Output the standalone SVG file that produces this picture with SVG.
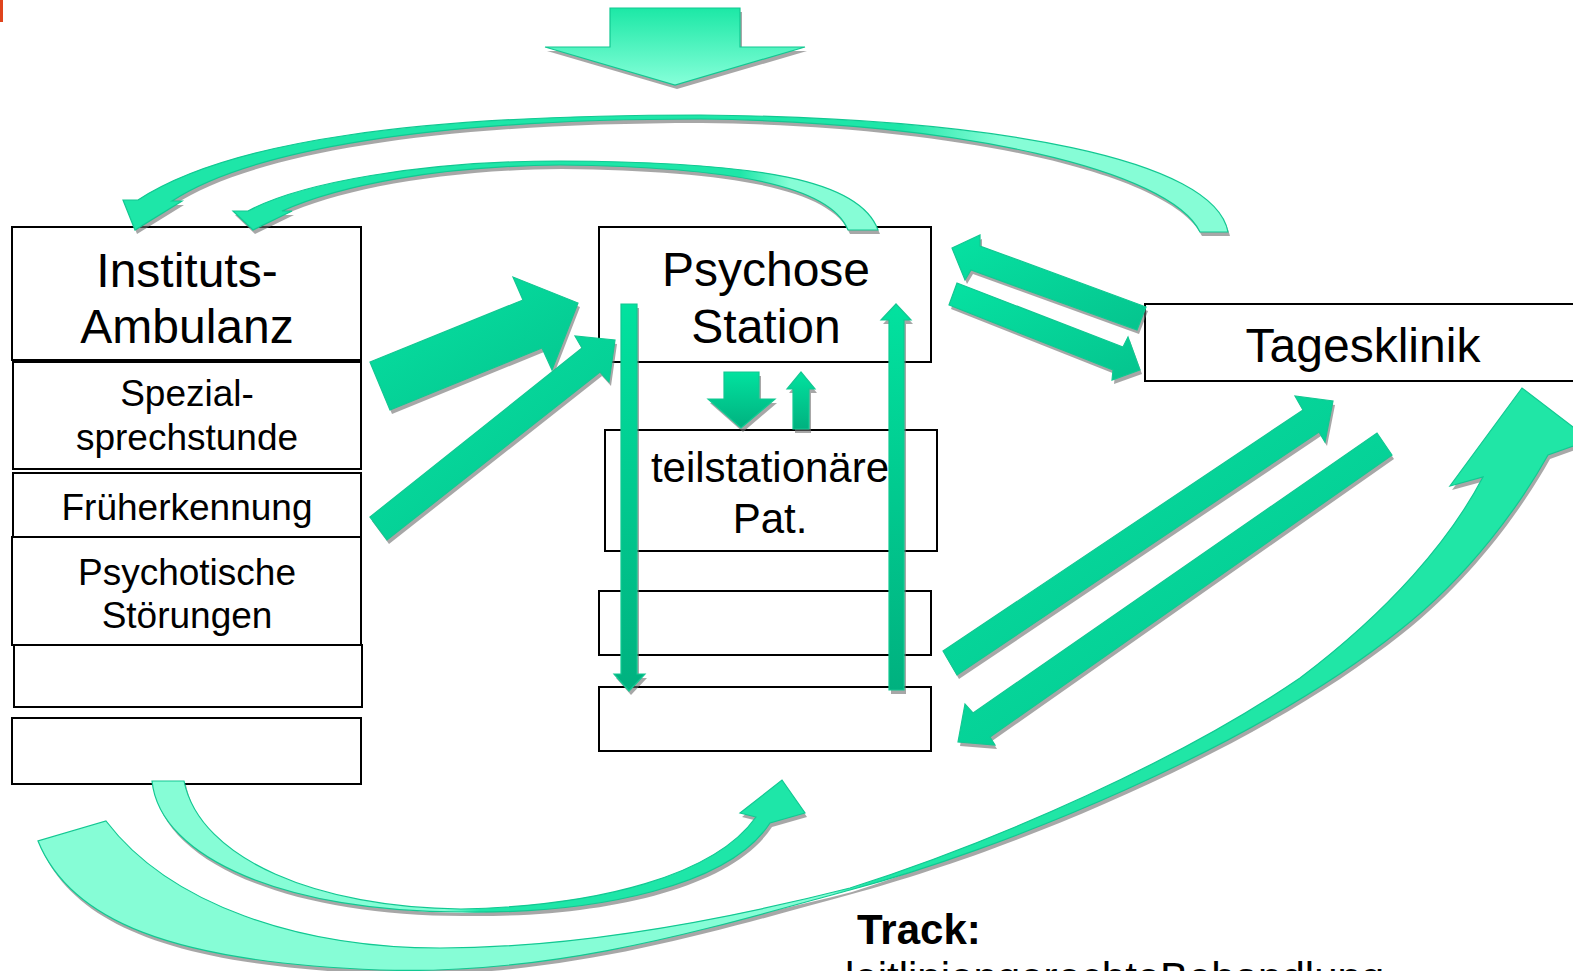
<svg xmlns="http://www.w3.org/2000/svg" xmlns:xlink="http://www.w3.org/1999/xlink" width="1573" height="971" viewBox="0 0 1573 971">
<style>
.box{fill:#ffffff;stroke:#000000;stroke-width:2}
.t{font-family:"Liberation Sans",Arial,sans-serif;fill:#000000;text-anchor:middle}
.big{font-size:48px}
.mid{font-size:42px}
.sm{font-size:37px}
.sh{fill:#6e6e6e;opacity:.6}
.ar{stroke:#12c892;stroke-width:1.2;stroke-linejoin:miter}
</style>
<defs>
<linearGradient id="gTop" x1="0" y1="0" x2="0" y2="1">
<stop offset="0" stop-color="#1ce8a6"/><stop offset="1" stop-color="#86ffd9"/>
</linearGradient>
<linearGradient id="gStr" x1="0" y1="0" x2="1" y2="1">
<stop offset="0" stop-color="#06e2a2"/><stop offset="1" stop-color="#05c48e"/>
</linearGradient>
<linearGradient id="gVert" x1="0" y1="0" x2="0" y2="1">
<stop offset="0" stop-color="#02e29f"/><stop offset="1" stop-color="#00b17f"/>
</linearGradient>
<linearGradient id="gArcOut" gradientUnits="userSpaceOnUse" x1="900" y1="0" x2="1000" y2="0">
<stop offset="0" stop-color="#1ee6a8"/><stop offset="1" stop-color="#86fdd6"/>
</linearGradient>
<linearGradient id="gArcIn" gradientUnits="userSpaceOnUse" x1="740" y1="0" x2="790" y2="0">
<stop offset="0" stop-color="#1ee6a8"/><stop offset="1" stop-color="#86fdd6"/>
</linearGradient>
<linearGradient id="gBotIn" gradientUnits="userSpaceOnUse" x1="445" y1="0" x2="480" y2="0">
<stop offset="0" stop-color="#86fdd6"/><stop offset="1" stop-color="#1ee6a8"/>
</linearGradient>
<linearGradient id="gBotOut" gradientUnits="userSpaceOnUse" x1="830" y1="0" x2="870" y2="0">
<stop offset="0" stop-color="#86fdd6"/><stop offset="0.4" stop-color="#3ff0b8"/><stop offset="1" stop-color="#20e6a6"/>
</linearGradient>
<path id="pTop" d="M610,8 L740,8 L740,47 L805,47 L675,85 L545,47 L610,47 Z"/>
<path id="pArcOut" d="M1228,232 C1215,160 1000,118 700,115 C420,115 230,140 138,200 L123,200 L135,230 L182,201 L172,201 C250,150 430,119 700,119 C960,122 1170,170 1200,232 Z"/>
<path id="pArcIn" d="M878,230 C860,180 760,162 560,161 C420,161 300,183 248,211 L233,211 L253,230 L292,211 L282,211 C340,185 440,166 560,165 C730,167 830,185 848,230 Z"/>
<path id="pA1" d="M370,362 L523,300 L513,277 L578,303 L552,370 L542,348 L390,410 Z"/>
<path id="pA2" d="M370,517 L582,348 L575,336 L615,340 L609,382 L600,372 L387,540 Z"/>
<path id="pDownL" d="M621,304 L637,304 L637,674 L645,674 L629,691 L614,674 L621,674 Z"/>
<path id="pUpR" d="M889,690 L889,320 L881,320 L896,304 L911,320 L904,320 L904,690 Z"/>
<path id="pSmDown" d="M724,372 L759,372 L759,399 L775,399 L741,428 L708,399 L724,399 Z"/>
<path id="pSmUp" d="M793,429 L793,389 L787,389 L801,372 L815,389 L809,389 L809,429 Z"/>
<path id="pToPS" d="M1146,307 L980,246 L980,235 L952,248 L965,280 L971,270 L1137,330 Z"/>
<path id="pToTK" d="M957,283 L1123,347 L1128,337 L1140,370 L1112,380 L1113,370 L949,305 Z"/>
<path id="pUpTK" d="M943,651 L1303,410 L1295,396 L1333,401 L1325,442 L1319,432 L957,675 Z"/>
<path id="pDownPS" d="M1377,433 L1392,455 L990,737 L995,745 L958,742 L965,704 L973,713 Z"/>
<path id="pBotIn" d="M152,781 C160,860 290,912 461,912 C600,914 730,885 770,823 L805,813 L782,780 L740,813 L756,817 C715,875 600,906 461,909 C320,908 200,860 184,781 Z"/>
<path id="pBotOut" d="M38,841 C70,920 170,962 380,970 C560,976 720,925 850,890 C1000,850 1250,750 1400,630 C1470,575 1520,505 1548,455 L1590,440 L1522,388 L1450,486 L1483,477 C1450,540 1390,610 1300,678 C1180,760 1000,840 850,888 C700,926 560,948 440,948 C300,948 170,905 106,821 Z"/>
</defs>
<rect x="0" y="0" width="3" height="22" fill="#e0441c"/>

<g id="node-instituts-ambulanz">
<rect class="box" x="12" y="227" width="349" height="133"/>
<text class="t big" x="187" y="287">Instituts-</text>
<text class="t big" x="187" y="343">Ambulanz</text>
</g>
<g id="node-spezialsprechstunde">
<rect class="box" x="13" y="362" width="348" height="107"/>
<text class="t sm" x="187" y="406">Spezial-</text>
<text class="t sm" x="187" y="450">sprechstunde</text>
</g>
<g id="node-frueherkennung">
<rect class="box" x="13" y="473" width="348" height="64"/>
<text class="t sm" x="187" y="520">Früherkennung</text>
</g>
<g id="node-psychotische-stoerungen">
<rect class="box" x="12" y="537" width="349" height="108"/>
<text class="t sm" x="187" y="585">Psychotische</text>
<text class="t sm" x="187" y="628">Störungen</text>
</g>
<g id="node-left-empty-1">
<rect class="box" x="14" y="645" width="348" height="62"/>
</g>
<g id="node-left-empty-2">
<rect class="box" x="12" y="718" width="349" height="66"/>
</g>
<g id="node-psychose-station">
<rect class="box" x="599" y="227" width="332" height="135"/>
<text class="t big" x="766" y="286">Psychose</text>
<text class="t big" x="766" y="343">Station</text>
</g>
<g id="node-teilstationaere">
<rect class="box" x="605" y="430" width="332" height="121"/>
<text class="t mid" x="770" y="482">teilstationäre</text>
<text class="t mid" x="770" y="533">Pat.</text>
</g>
<g id="node-center-empty-1">
<rect class="box" x="599" y="591" width="332" height="64"/>
</g>
<g id="node-center-empty-2">
<rect class="box" x="599" y="687" width="332" height="64"/>
</g>
<g id="node-tagesklinik">
<rect class="box" x="1145" y="304" width="440" height="77"/>
<text class="t big" x="1363" y="362">Tagesklinik</text>
</g>
<g id="label-track">
<text x="857" y="944" font-family="'Liberation Sans',Arial,sans-serif" font-size="42" font-weight="bold">Track:</text>
<text x="845" y="992" font-family="'Liberation Sans',Arial,sans-serif" font-size="42">leitliniengerechte <tspan x="1160">Behandlung</tspan></text>
</g>

<g id="connectors">
<g transform="translate(2,4)" class="sh">
<use xlink:href="#pTop"/><use xlink:href="#pArcOut"/><use xlink:href="#pArcIn"/>
<use xlink:href="#pA1"/><use xlink:href="#pA2"/>
<use xlink:href="#pDownL"/><use xlink:href="#pUpR"/><use xlink:href="#pSmDown"/><use xlink:href="#pSmUp"/>
<use xlink:href="#pToPS"/><use xlink:href="#pToTK"/><use xlink:href="#pUpTK"/><use xlink:href="#pDownPS"/>
<use xlink:href="#pBotIn"/><use xlink:href="#pBotOut"/>
</g>
<use xlink:href="#pTop" class="ar" fill="url(#gTop)"/>
<use xlink:href="#pArcOut" class="ar" fill="url(#gArcOut)"/>
<use xlink:href="#pArcIn" class="ar" fill="url(#gArcIn)"/>
<use xlink:href="#pA1" class="ar" fill="url(#gStr)"/>
<use xlink:href="#pA2" class="ar" fill="url(#gStr)"/>
<use xlink:href="#pDownL" class="ar" fill="url(#gVert)"/>
<use xlink:href="#pUpR" class="ar" fill="url(#gVert)"/>
<use xlink:href="#pSmDown" class="ar" fill="url(#gVert)"/>
<use xlink:href="#pSmUp" class="ar" fill="url(#gVert)"/>
<use xlink:href="#pToPS" class="ar" fill="url(#gStr)"/>
<use xlink:href="#pToTK" class="ar" fill="url(#gStr)"/>
<use xlink:href="#pUpTK" class="ar" fill="url(#gStr)"/>
<use xlink:href="#pDownPS" class="ar" fill="url(#gStr)"/>
<use xlink:href="#pBotIn" class="ar" fill="url(#gBotIn)"/>
<use xlink:href="#pBotOut" class="ar" fill="url(#gBotOut)"/>
</g>
</svg>
